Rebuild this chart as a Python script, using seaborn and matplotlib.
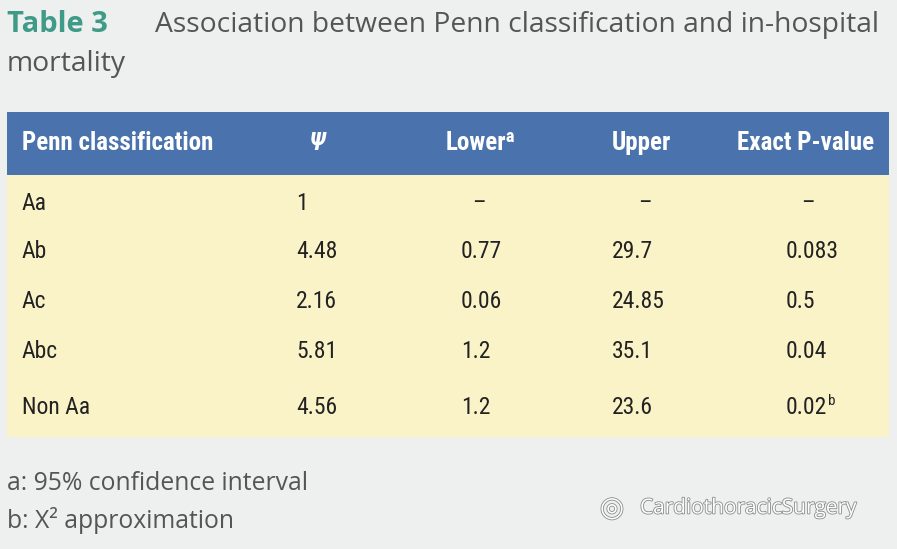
import matplotlib
matplotlib.use("Agg")
import matplotlib.pyplot as plt
import matplotlib.patheffects as pe
from matplotlib import font_manager as fm
import seaborn as sns

headers = ["Penn classification", "Ψ", "Lowerᵃ", "Upper", "Exact P-value"]
categories = ["Aa", "Ab", "Ac", "Abc", "Non Aa"]
psi = ["1", "4.48", "2.16", "5.81", "4.56"]
lower = ["–", "0.77", "0.06", "1.2", "1.2"]
upper = ["–", "29.7", "24.85", "35.1", "23.6"]
pvals = ["–", "0.083", "0.5", "0.04", "0.02ᵇ"]

names = {f.name for f in fm.fontManager.ttflist}
narrow = "DejaVu Sans"
for cand in ["Liberation Sans Narrow", "DejaVu Sans Condensed", "Roboto Condensed", "Open Sans Condensed"]:
    if cand in names:
        narrow = cand
        break

sns.set_theme(style="white")
fig = plt.figure(figsize=(8.97, 5.49), dpi=100)
fig.patch.set_facecolor("#eef0ef")
ax = fig.add_axes([0, 0, 1, 1])
ax.set_xlim(0, 897); ax.set_ylim(549, 0); ax.axis("off")

ax.add_patch(plt.Rectangle((7, 112), 882, 63, color="#4a73ad", lw=0))
ax.add_patch(plt.Rectangle((7, 175), 882, 262, color="#fbf3c8", lw=0))

ax.text(7, 25, "Table 3", fontsize=21, fontweight="bold", color="#3f9a87", va="center", family="Open Sans")
ax.text(155, 25, "Association between Penn classification and in-hospital", fontsize=20.3, color="#555555", va="center", family="Open Sans")
ax.text(7, 64, "mortality", fontsize=20.3, color="#555555", va="center", family="Open Sans")

hx = [22, 310, 446, 612, 737]
for x, h in zip(hx, headers):
    ax.text(x, 143, h, fontsize=18, fontweight="bold", color="white", va="center", family=narrow,
            style="italic" if h == "Ψ" else "normal")

fs = 17
def cell(x, y, v, center_x=None):
    if v == "–":
        ax.text(center_x, y, v, fontsize=fs, color="#222222", va="center", ha="center", family=narrow)
        return
    sup = None
    if v.endswith("ᵇ"):
        v, sup = v[:-1], "b"
    t = ax.text(x, y, v, fontsize=fs, color="#222222", va="center", family=narrow)
    if sup:
        fig.canvas.draw()
        bb = t.get_window_extent()
        xe = ax.transData.inverted().transform((bb.x1, bb.y1))[0]
        ax.text(xe + 1, y - 7, sup, fontsize=11, color="#222222", va="center", family=narrow)

cols = [categories, psi, lower, upper, pvals]
cx = [22, 296, 461, 612, 786]
dash_x = [22, 318, 479, 645, 808]
ry = [203, 251, 301, 351, 408]
for c, x, dx in zip(cols, cx, dash_x):
    for v, y in zip(c, ry):
        cell(x, y, v, dx)

ax.text(7, 483, "a: 95% confidence interval", fontsize=17.8, color="#555555", va="center", family="Open Sans")
ax.text(7, 521, "b: X² approximation", fontsize=17.8, color="#555555", va="center", family="Open Sans")
stroke = [pe.withStroke(linewidth=1.2, foreground="#8a8a8a")]
ax.text(640, 508, "CardiothoracicSurgery", fontsize=15, color="white", va="center", family="Open Sans", path_effects=stroke)
ax.text(612, 508, "◎", fontsize=20, color="white", va="center", ha="center", path_effects=stroke)
fig.savefig("out.png", dpi=100, facecolor=fig.get_facecolor())
